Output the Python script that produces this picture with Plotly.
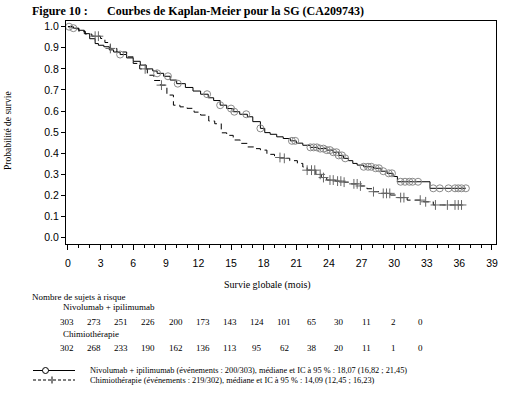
import numpy as np
import plotly.graph_objects as go

# ---------------- data ----------------
nivo_t = [0, 0.5, 1.0, 1.5, 2.0, 2.5, 2.8, 3.3, 3.8, 4.2, 4.8, 5.4, 6.0, 6.65, 7.2, 7.8, 8.2, 8.8, 9.4,
          10.0, 10.8, 11.5, 12.2, 12.9, 13.4, 14.0, 14.6, 15.2, 15.8, 16.5, 17.0, 17.7, 18.1, 18.6, 19.2,
          19.8, 20.45, 21.0, 21.6, 22.3, 23.0, 23.8, 24.4, 24.9, 25.35, 25.8, 26.2, 26.6, 27.2, 28.1,
          28.8, 29.35, 29.9, 30.3, 33.3]
nivo_s = [1.0, 0.993, 0.983, 0.967, 0.943, 0.920, 0.912, 0.905, 0.890, 0.880, 0.868, 0.852, 0.836, 0.818,
          0.800, 0.790, 0.779, 0.765, 0.747, 0.730, 0.712, 0.695, 0.680, 0.663, 0.650, 0.628, 0.612, 0.597,
          0.585, 0.573, 0.550, 0.518, 0.498, 0.490, 0.478, 0.470, 0.459, 0.448, 0.438, 0.428, 0.422, 0.415,
          0.405, 0.390, 0.376, 0.365, 0.352, 0.344, 0.336, 0.329, 0.315, 0.305, 0.290, 0.265, 0.234]
nivo_cens = [0.1, 0.5, 4.8, 8.2, 9.2, 10.1, 12.8, 14.0, 15.0, 15.3, 16.4, 17.7, 20.6, 20.9, 22.3, 22.6,
             22.9, 23.2, 23.5, 23.8, 24.1, 24.4, 24.7, 24.9, 25.2, 25.5, 27.2, 27.6, 27.9, 28.3, 28.6,
             29.0, 29.5, 29.8, 30.6, 31.0, 31.4, 31.7, 32.2, 33.6, 34.2, 35.0, 35.6, 35.9, 36.2, 36.6]

chemo_t = [0, 0.4, 1.0, 1.6, 2.2, 3.0, 3.4, 3.9, 4.5, 5.4, 6.0, 6.6, 7.3, 7.9, 8.5, 9.1, 9.7, 10.3, 10.95,
           11.6, 12.2, 12.95, 13.5, 14.1, 14.6, 15.2, 15.85, 16.5, 17.2, 17.7, 18.3, 19.0, 19.8, 20.4,
           21.1, 21.6, 22.0, 22.8, 23.3, 23.8, 24.6, 25.4, 26.0, 26.9, 27.5, 28.1, 28.8, 29.65, 30.3,
           31.2, 32.7, 33.6]
chemo_s = [1.0, 0.990, 0.978, 0.965, 0.955, 0.944, 0.925, 0.897, 0.880, 0.857, 0.826, 0.800, 0.770, 0.745,
           0.723, 0.676, 0.628, 0.620, 0.613, 0.595, 0.581, 0.553, 0.540, 0.497, 0.485, 0.463, 0.447, 0.430,
           0.422, 0.415, 0.395, 0.380, 0.376, 0.365, 0.352, 0.335, 0.320, 0.300, 0.285, 0.273, 0.268, 0.263,
           0.255, 0.245, 0.232, 0.218, 0.210, 0.202, 0.190, 0.178, 0.170, 0.155]
chemo_cens = [2.5, 2.8, 3.9, 7.1, 8.6, 19.5, 19.9, 22.0, 22.4, 22.7, 23.2, 23.5, 24.1, 24.4, 24.8, 25.1,
              25.4, 26.3, 26.6, 26.9, 28.1, 29.0, 29.3, 29.6, 30.6, 30.9, 32.4, 32.9, 33.8, 34.9, 35.6,
              35.9, 36.2]

risk_times = [0, 3, 6, 9, 12, 15, 18, 21, 24, 27, 30, 33, 36, 39]
nivo_risk = [303, 273, 251, 226, 200, 173, 143, 124, 101, 65, 30, 11, 2, 0]
chemo_risk = [302, 268, 233, 190, 162, 136, 113, 95, 62, 38, 20, 11, 1, 0]

x_ticks = [0, 3, 6, 9, 12, 15, 18, 21, 24, 27, 30, 33, 36, 39]
y_ticks = [0.0, 0.1, 0.2, 0.3, 0.4, 0.5, 0.6, 0.7, 0.8, 0.9, 1.0]

nivo_label = "Nivolumab + ipilimumab (événements : 200/303), médiane et IC à 95 % : 18,07 (16,82 ; 21,45)"
chemo_label = "Chimiothérapie (événements : 219/302), médiane et IC à 95 % : 14,09 (12,45 ; 16,23)"

# ---------------- helpers ----------------
W, H = 511, 394
ML, MR, MT, MB = 66, 15, 21, 150
PW, PH = W - ML - MR, H - MT - MB


def px(x):
    return (x - ML) / PW


def py(y):
    return (H - MB - y) / PH


def step_at(times, surv, pts):
    idx = np.searchsorted(np.array(times), np.array(pts), side="right") - 1
    return list(np.array(surv)[idx])


SERIF = "Liberation Serif, Times New Roman, serif"
SANS = "Liberation Sans, Arial, sans-serif"
GREY = "#8a8a8a"

fig = go.Figure()

# curves (extend to last censored time)
fig.add_trace(go.Scatter(x=nivo_t + [nivo_cens[-1]], y=nivo_s + [nivo_s[-1]], mode="lines",
                         line=dict(color="black", width=1, shape="hv"), showlegend=False,
                         hoverinfo="skip"))
fig.add_trace(go.Scatter(x=chemo_t + [chemo_cens[-1]], y=chemo_s + [chemo_s[-1]], mode="lines",
                         line=dict(color="black", width=1, shape="hv", dash="6px,4px"),
                         showlegend=False, hoverinfo="skip"))
# censor marks
fig.add_trace(go.Scatter(x=nivo_cens, y=step_at(nivo_t, nivo_s, nivo_cens), mode="markers",
                         marker=dict(symbol="circle-open", size=7, color=GREY, line=dict(width=1)),
                         showlegend=False))
fig.add_trace(go.Scatter(x=chemo_cens, y=step_at(chemo_t, chemo_s, chemo_cens), mode="markers",
                         marker=dict(symbol="cross-thin-open", size=7, color="#666", line=dict(width=1)),
                         showlegend=False))

# axes
fig.update_xaxes(range=[-0.18, 39.37], tickvals=x_ticks, ticks="outside", ticklen=5, tickwidth=1,
                 tickcolor="black", showline=True, linecolor="black", linewidth=1, mirror=True,
                 showgrid=False, zeroline=False, tickfont=dict(family=SANS, size=10.5, color="black"),
                 minor=dict(dtick=1, ticks="outside", ticklen=3, tickcolor="black"),
                 ticklabelstandoff=4)
fig.update_yaxes(range=[-0.03, 1.027], tickvals=y_ticks, ticktext=[f"{v:.1f}" for v in y_ticks],
                 ticks="outside", ticklen=4, tickwidth=1, tickcolor="black", showline=True,
                 linecolor="black", linewidth=1, mirror=True, showgrid=False, zeroline=False,
                 tickfont=dict(family=SANS, size=10.5, color="black"), ticklabelstandoff=0)

# overlay axis for the at-risk table columns
fig.update_layout(xaxis2=dict(overlaying="x", range=[-0.077, 47.33], visible=False,
                              showgrid=False, zeroline=False))

ann = []
ann.append(dict(text="<b>Figure 10 :</b>", x=px(30), y=py(11), xref="paper", yref="paper",
                xanchor="left", yanchor="middle", showarrow=False,
                font=dict(family=SERIF, size=12, color="black")))
ann.append(dict(text="<b>Courbes de Kaplan-Meier pour la SG (CA209743)</b>", x=px(105), y=py(11),
                xref="paper", yref="paper", xanchor="left", yanchor="middle", showarrow=False,
                font=dict(family=SERIF, size=12, color="black")))
ann.append(dict(text="Probabilité de survie", x=px(8), y=py(130), xref="paper", yref="paper",
                textangle=-90, xanchor="center", yanchor="middle", showarrow=False,
                font=dict(family=SERIF, size=9.5, color="black")))
ann.append(dict(text="Survie globale (mois)", x=px(267), y=py(285), xref="paper", yref="paper",
                xanchor="center", yanchor="middle", showarrow=False,
                font=dict(family=SERIF, size=10, color="black")))
for txt, xl, yc in [("Nombre de sujets à risque", 30, 296.5),
                    ("Nivolumab + ipilimumab", 61, 307),
                    ("Chimiothérapie", 61, 333.5)]:
    ann.append(dict(text=txt, x=px(xl), y=py(yc), xref="paper", yref="paper", xanchor="left",
                    yanchor="middle", showarrow=False, font=dict(family=SERIF, size=9, color="black")))
for row, yc in [(nivo_risk, 321.5), (chemo_risk, 347.5)]:
    for t, n in zip(risk_times, row):
        ann.append(dict(text=str(n), x=t, y=py(yc), xref="x2", yref="paper", xanchor="center",
                        yanchor="middle", showarrow=False,
                        font=dict(family=SERIF, size=9, color="black")))
for txt, yc in [(nivo_label, 370.5), (chemo_label, 380)]:
    ann.append(dict(text=txt, x=px(88), y=py(yc), xref="paper", yref="paper", xanchor="left",
                    yanchor="middle", showarrow=False, font=dict(family=SERIF, size=8.3, color="black")))

shapes = [
    dict(type="line", xref="paper", yref="paper", x0=px(33), x1=px(75), y0=py(370.5), y1=py(370.5),
         line=dict(color="black", width=1)),
    dict(type="circle", xref="paper", yref="paper", x0=px(42.5), x1=px(48.5), y0=py(367.5),
         y1=py(373.5), fillcolor="white", line=dict(color="black", width=1)),
    dict(type="line", xref="paper", yref="paper", x0=px(33), x1=px(75), y0=py(380), y1=py(380),
         line=dict(color="black", width=1, dash="3px,2px")),
    dict(type="line", xref="paper", yref="paper", x0=px(52), x1=px(52), y0=py(376.5), y1=py(383.5),
         line=dict(color="black", width=1)),
]

fig.update_layout(width=W, height=H, margin=dict(l=ML, r=MR, t=MT, b=MB, autoexpand=False),
                  paper_bgcolor="white", plot_bgcolor="white", showlegend=False,
                  annotations=ann, shapes=shapes)

fig.write_html("out.html", config={"displayModeBar": False},
               post_script="document.body.style.margin='0px';document.body.style.padding='0px';")
